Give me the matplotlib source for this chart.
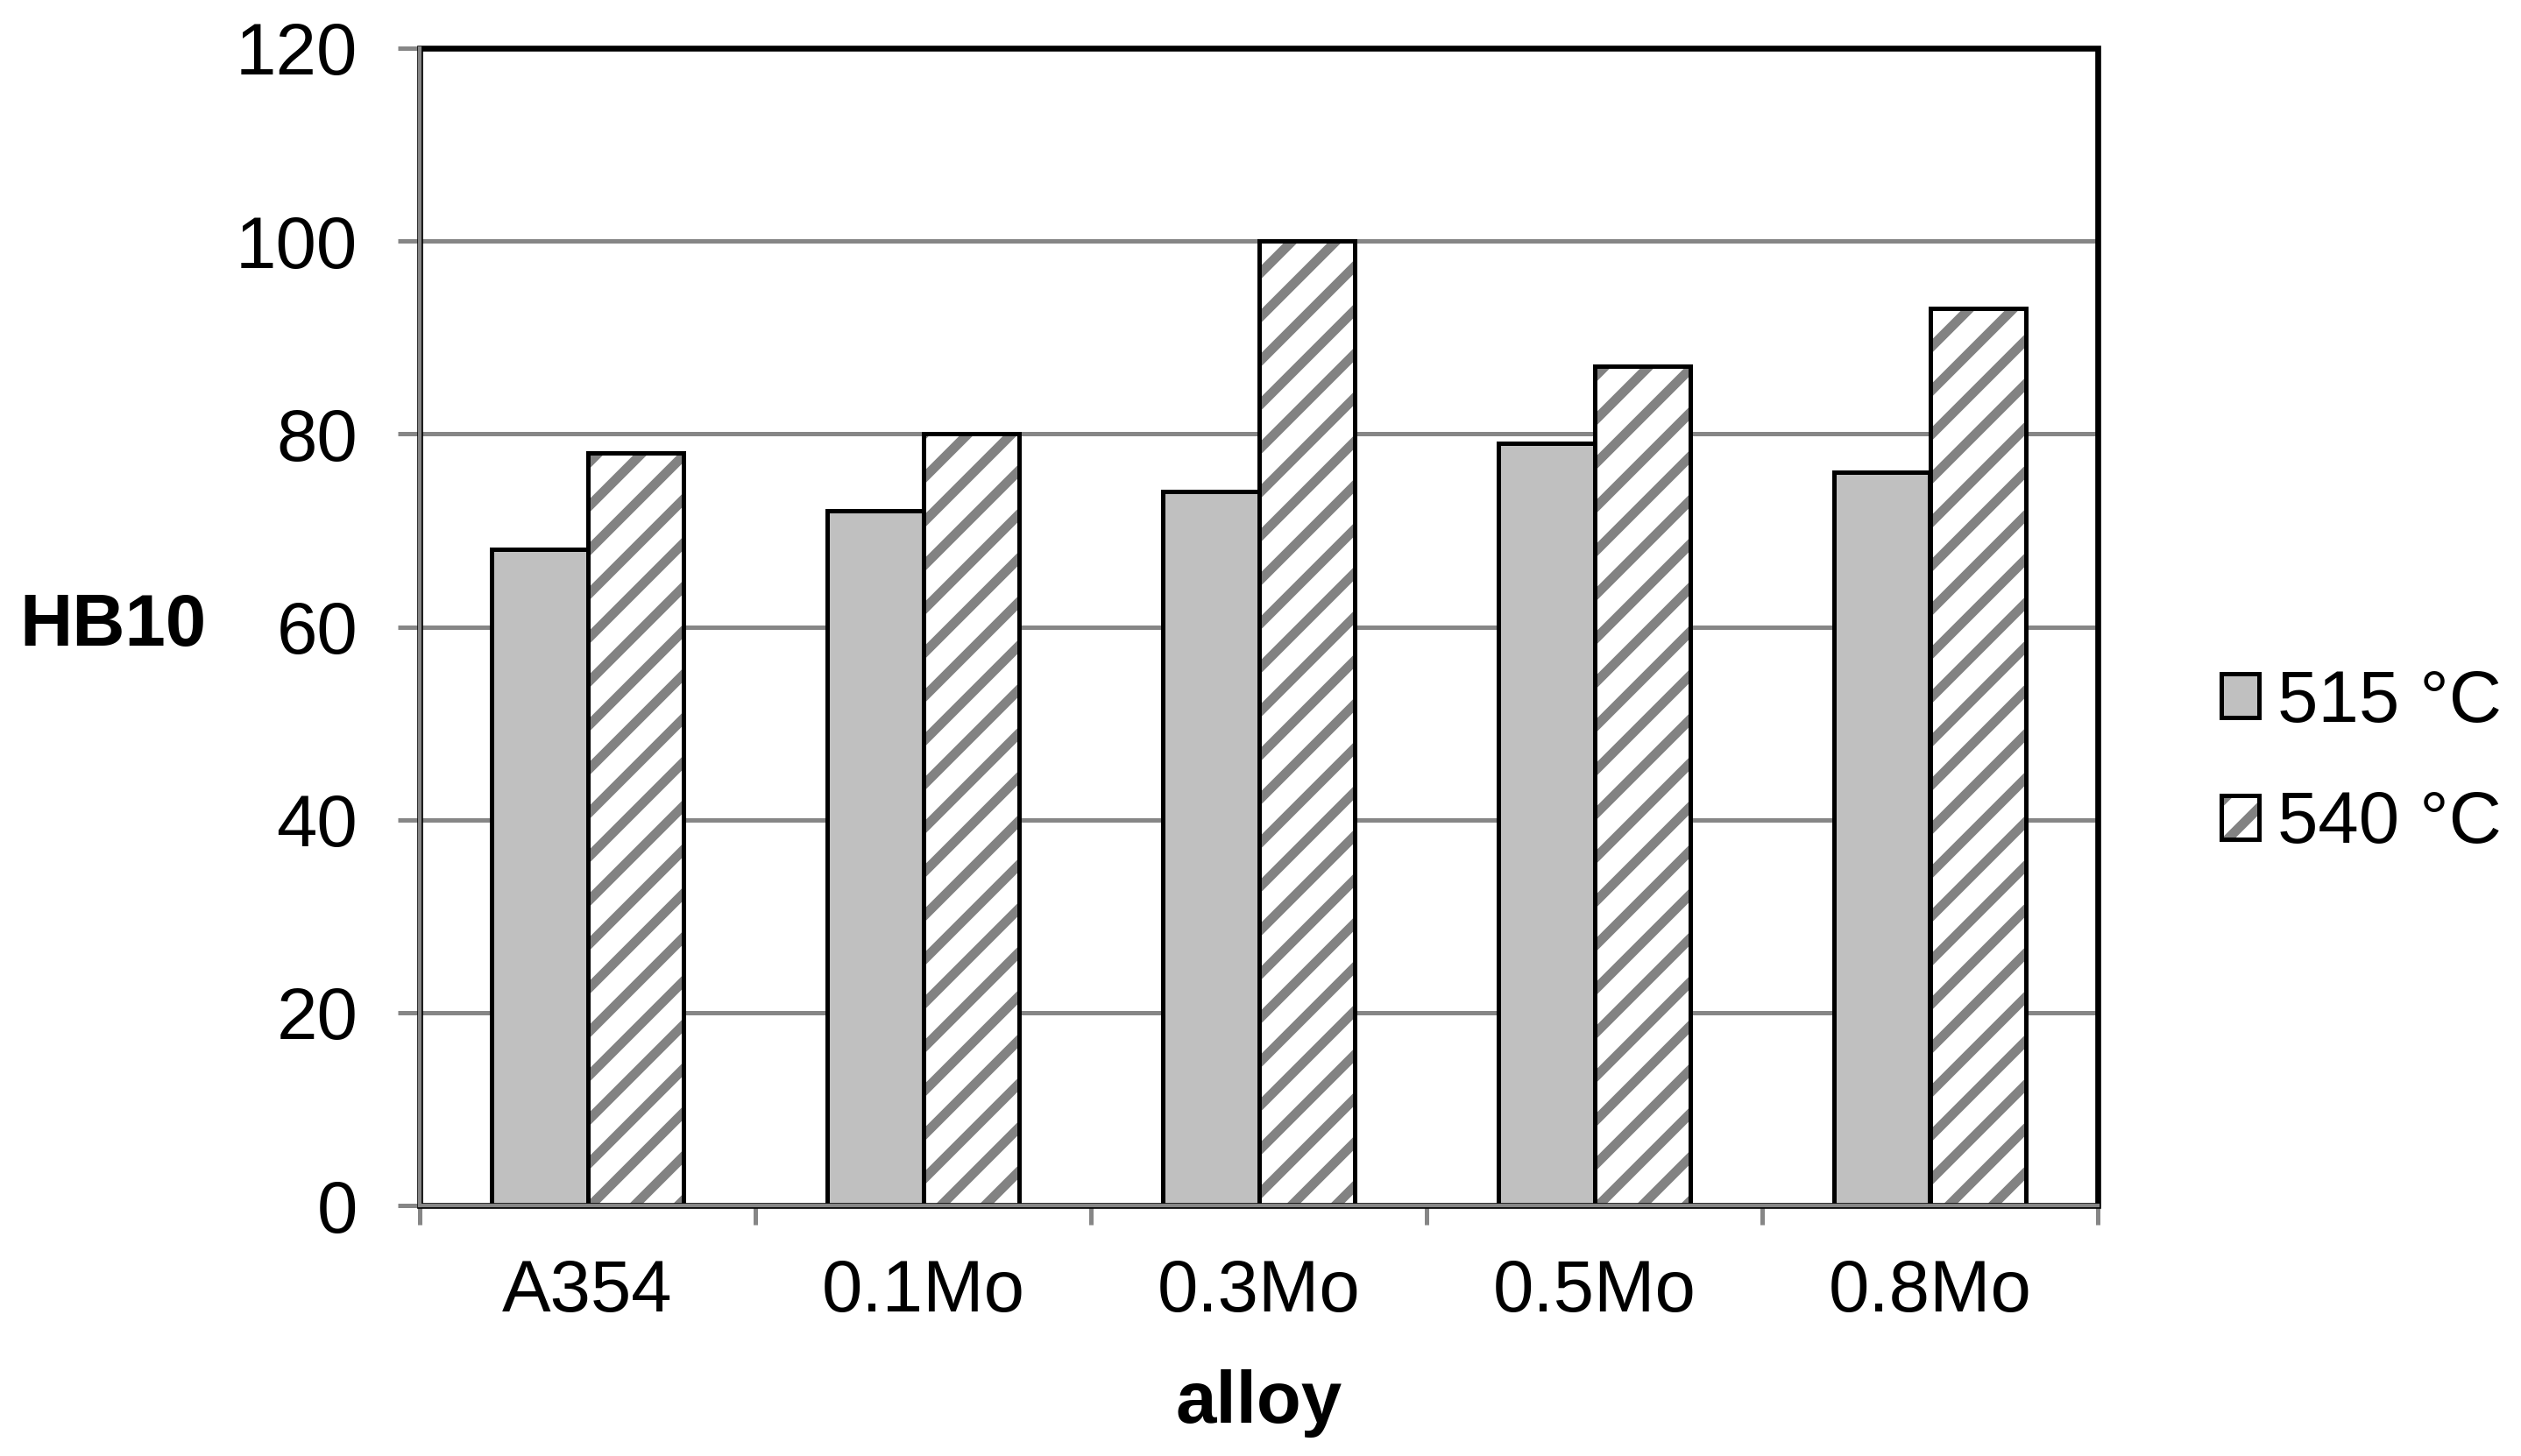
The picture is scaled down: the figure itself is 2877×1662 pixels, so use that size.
import matplotlib
matplotlib.use("Agg")
import matplotlib.pyplot as plt
import numpy as np
from matplotlib.patches import Patch, Rectangle
from matplotlib.legend_handler import HandlerTuple

alloys = ["A354", "0.1Mo", "0.3Mo", "0.5Mo", "0.8Mo"]
hb_515 = [68, 72, 74, 79, 76]
hb_540 = [78, 80, 100, 87, 93]
series_labels = ["515 °C", "540 °C"]
y_ticks = [0, 20, 40, 60, 80, 100, 120]

GRAY_FILL = "#c0c0c0"
HATCH_GRAY = "#828282"
AXIS_GRAY = "#868686"

plt.rcParams["font.family"] = ["Liberation Sans", "DejaVu Sans"]
plt.rcParams["hatch.linewidth"] = 2.6

DPI = 300
W, H = 2877, 1662
fig = plt.figure(figsize=(W / DPI, H / DPI), dpi=DPI)
left, right, top, bottom = 479, 2394, 55, 1376
ax = fig.add_axes([left / W, 1 - bottom / H, (right - left) / W, (bottom - top) / H])

x = np.arange(len(alloys))
w = 0.287

ax.bar(x - w / 2, hb_515, w, color=GRAY_FILL, edgecolor="black", linewidth=1.2, zorder=3)
ax.bar(x + w / 2, hb_540, w, color="white", edgecolor=HATCH_GRAY, hatch="//", linewidth=0, zorder=3)
ax.bar(x + w / 2, hb_540, w, fill=False, edgecolor="black", linewidth=1.2, zorder=4)

ax.set_xlim(-0.5, len(alloys) - 0.5)
ax.set_ylim(0, 120)
ax.set_yticks(y_ticks)
ax.set_yticklabels([str(t) for t in y_ticks], fontsize=20)
ax.tick_params(axis="y", direction="out", length=6, width=1.2, color=AXIS_GRAY, pad=11)

ax.set_xticks(np.arange(len(alloys) + 1) - 0.5)
ax.set_xticklabels([])
ax.set_xticks(x, minor=True)
ax.set_xticklabels(alloys, minor=True, fontsize=20)
ax.tick_params(axis="x", which="major", direction="out", length=5.3, width=1.2, color=AXIS_GRAY)
ax.tick_params(axis="x", which="minor", length=0, pad=14.5)

ax.yaxis.grid(True, color=AXIS_GRAY, linewidth=1.2, zorder=0)
ax.set_axisbelow(True)

# black plot-area border, grey axis lines drawn over the left/bottom edges
ax.add_patch(Rectangle((0, 0), 1, 1, transform=ax.transAxes, fill=False,
                       edgecolor="black", linewidth=1.6, zorder=5, clip_on=False))
for side in ["top", "right"]:
    ax.spines[side].set_visible(False)
for side in ["left", "bottom"]:
    ax.spines[side].set_color(AXIS_GRAY)
    ax.spines[side].set_linewidth(1.0)
    ax.spines[side].set_zorder(6)

ax.set_ylabel("HB10", fontsize=20, fontweight="bold", rotation=0, ha="left", va="center")
ax.yaxis.set_label_coords((22 - left) / (right - left), 0.5)
ax.set_xlabel("alloy", fontsize=20, fontweight="bold", va="center")
ax.xaxis.set_label_coords(0.5, -0.171)

h1 = Patch(facecolor=GRAY_FILL, edgecolor="black", linewidth=1.2)
h2a = Patch(facecolor="white", edgecolor=HATCH_GRAY, hatch="//", linewidth=0)
h2b = Patch(fill=False, edgecolor="black", linewidth=1.2)
fig.legend([h1, (h2a, h2b)], series_labels,
           handler_map={tuple: HandlerTuple(ndivide=1)},
           loc="center left", bbox_to_anchor=(2535 / W, 1 - 871 / H),
           frameon=False, fontsize=20, borderpad=0, borderaxespad=0,
           handlelength=0.52, handleheight=0.54, handletextpad=0.25,
           labelspacing=0.73)

fig.savefig("out.png", dpi=DPI, facecolor="white")
